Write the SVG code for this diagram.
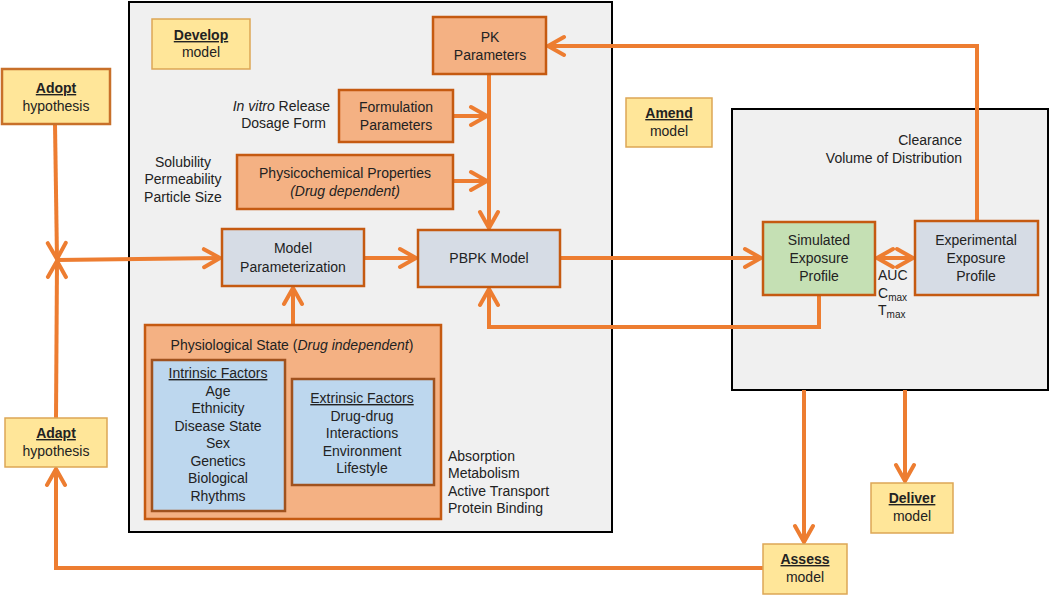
<svg xmlns="http://www.w3.org/2000/svg" width="1050" height="596" viewBox="0 0 1050 596">
<defs>
<marker id="ah" markerUnits="userSpaceOnUse" markerWidth="24" markerHeight="24" viewBox="-20 -12 24 24" refX="0" refY="0" orient="auto-start-reverse">
<path d="M-16,-9 L0,0 L-16,9" fill="none" stroke="#ED7D31" stroke-width="4" stroke-linecap="round" stroke-linejoin="miter"/>
</marker>
</defs>
<style>
text{font-family:"Liberation Sans",Arial,sans-serif;font-size:14px;fill:#222}
.c{text-anchor:middle}
.r{text-anchor:end}
.b{font-weight:bold;text-decoration:underline}
.u{text-decoration:underline}
.i{font-style:italic}
.yel{fill:#FFE699;stroke:#DDA655;stroke-width:1.5}
.yel2{fill:#FFE699;stroke:#C8702A;stroke-width:2.5}
.ora{fill:#F4B183;stroke:#C55A11;stroke-width:2.5}
.gry{fill:#D6DCE5;stroke:#C55A11;stroke-width:2.5}
.grn{fill:#C5E0B4;stroke:#C55A11;stroke-width:2.5}
.blu{fill:#BDD7EE;stroke:#A0521E;stroke-width:2.5}
.cont{fill:#F0F0F0;stroke:#000;stroke-width:2}
.ln{fill:none;stroke:#ED7D31;stroke-width:4}
</style>
<rect width="1050" height="596" fill="#fff"/>
<g id="containers">
<rect class="cont" x="129" y="2" width="483" height="530"/>
<rect class="cont" x="732" y="109" width="316" height="281"/>
</g>
<g id="connectors">
<path class="ln" d="M55,124 L57,259" marker-end="url(#ah)"/>
<path class="ln" d="M56,418 L57,261" marker-end="url(#ah)"/>
<path class="ln" d="M57,260 L220,258" marker-end="url(#ah)"/>
<path class="ln" d="M364,258 L416,258" marker-end="url(#ah)"/>
<path class="ln" d="M293,325 L293,288" marker-end="url(#ah)"/>
<path class="ln" d="M489,74 L489,228" marker-end="url(#ah)"/>
<path class="ln" d="M453,116 L487,116" marker-end="url(#ah)"/>
<path class="ln" d="M453,181 L487,181" marker-end="url(#ah)"/>
<path class="ln" d="M560,258 L761,258" marker-end="url(#ah)"/>
<path class="ln" d="M877,258 L913,258" marker-start="url(#ah)" marker-end="url(#ah)"/>
<path class="ln" d="M819,295 L819,327 L489,327 L489,289" marker-end="url(#ah)"/>
<path class="ln" d="M977,221 L977,46 L548,46" marker-end="url(#ah)"/>
<path class="ln" d="M804,390 L804,542" marker-end="url(#ah)"/>
<path class="ln" d="M905,390 L905,481" marker-end="url(#ah)"/>
<path class="ln" d="M763,568 L56,568 L56,469" marker-end="url(#ah)"/>
</g>
<g id="develop">
<rect class="yel" x="152" y="19" width="98" height="50"/>
<text class="c b" x="201" y="40">Develop</text>
<text class="c" x="201" y="57">model</text>
</g>
<g id="adopt">
<rect class="yel2" x="2" y="69" width="108" height="55"/>
<text class="c b" x="56" y="93">Adopt</text>
<text class="c" x="56" y="111">hypothesis</text>
</g>
<g id="adapt">
<rect class="yel" x="5" y="418" width="102" height="49"/>
<text class="c b" x="56" y="438">Adapt</text>
<text class="c" x="56" y="456">hypothesis</text>
</g>
<g id="amend">
<rect class="yel" x="626" y="98" width="86" height="49"/>
<text class="c b" x="669" y="118">Amend</text>
<text class="c" x="669" y="136">model</text>
</g>
<g id="assess">
<rect class="yel" x="763" y="544" width="84" height="50"/>
<text class="c b" x="805" y="564">Assess</text>
<text class="c" x="805" y="582">model</text>
</g>
<g id="deliver">
<rect class="yel" x="871" y="483" width="82" height="50"/>
<text class="c b" x="912" y="503">Deliver</text>
<text class="c" x="912" y="521">model</text>
</g>
<g id="pk">
<rect class="ora" x="433" y="17" width="113" height="57"/>
<text class="c" x="490" y="42">PK</text>
<text class="c" x="490" y="60">Parameters</text>
</g>
<g id="formulation">
<rect class="ora" x="339" y="90" width="114" height="52"/>
<text class="c" x="396" y="112">Formulation</text>
<text class="c" x="396" y="130">Parameters</text>
</g>
<g id="formulation-label">
<text class="r" x="330" y="111"><tspan class="i">In vitro</tspan> Release</text>
<text class="r" x="326" y="128">Dosage Form</text>
</g>
<g id="physchem">
<rect class="ora" x="237" y="155" width="216" height="54"/>
<text class="c" x="345" y="178">Physicochemical Properties</text>
<text class="c i" x="345" y="196">(Drug dependent)</text>
</g>
<g id="physchem-label">
<text class="c" x="183" y="167">Solubility</text>
<text class="c" x="183" y="184">Permeability</text>
<text class="c" x="183" y="202">Particle Size</text>
</g>
<g id="modelparam">
<rect class="gry" x="222" y="229" width="142" height="57"/>
<text class="c" x="293" y="253">Model</text>
<text class="c" x="293" y="272">Parameterization</text>
</g>
<g id="pbpk">
<rect class="gry" x="418" y="230" width="142" height="57"/>
<text class="c" x="489" y="263">PBPK Model</text>
</g>
<g id="physio">
<rect class="ora" x="145" y="325" width="296" height="194"/>
<text class="c" x="292" y="350">Physiological State (<tspan class="i">Drug independent</tspan>)</text>
</g>
<g id="intrinsic">
<rect class="blu" x="152" y="360" width="133" height="151"/>
<text class="c u" x="218" y="378">Intrinsic Factors</text>
<text class="c" x="218" y="396">Age</text>
<text class="c" x="218" y="413">Ethnicity</text>
<text class="c" x="218" y="431">Disease State</text>
<text class="c" x="218" y="448">Sex</text>
<text class="c" x="218" y="466">Genetics</text>
<text class="c" x="218" y="483">Biological</text>
<text class="c" x="218" y="501">Rhythms</text>
</g>
<g id="extrinsic">
<rect class="blu" x="292" y="379" width="142" height="106"/>
<text class="c u" x="362" y="403">Extrinsic Factors</text>
<text class="c" x="362" y="421">Drug-drug</text>
<text class="c" x="362" y="438">Interactions</text>
<text class="c" x="362" y="456">Environment</text>
<text class="c" x="362" y="473">Lifestyle</text>
</g>
<g id="physio-label">
<text x="448" y="461">Absorption</text>
<text x="448" y="478">Metabolism</text>
<text x="448" y="496">Active Transport</text>
<text x="448" y="513">Protein Binding</text>
</g>
<g id="clearance-label">
<text class="r" x="962" y="145">Clearance</text>
<text class="r" x="962" y="163">Volume of Distribution</text>
</g>
<g id="simulated">
<rect class="grn" x="763" y="222" width="112" height="73"/>
<text class="c" x="819" y="245">Simulated</text>
<text class="c" x="819" y="263">Exposure</text>
<text class="c" x="819" y="281">Profile</text>
</g>
<g id="experimental">
<rect class="gry" x="915" y="221" width="123" height="74"/>
<text class="c" x="976" y="245">Experimental</text>
<text class="c" x="976" y="263">Exposure</text>
<text class="c" x="976" y="281">Profile</text>
</g>
<g id="metrics-label">
<text x="878" y="280">AUC</text>
<text x="878" y="298">C<tspan font-size="10" dy="3">max</tspan></text>
<text x="878" y="315">T<tspan font-size="10" dy="3">max</tspan></text>
</g>
</svg>
